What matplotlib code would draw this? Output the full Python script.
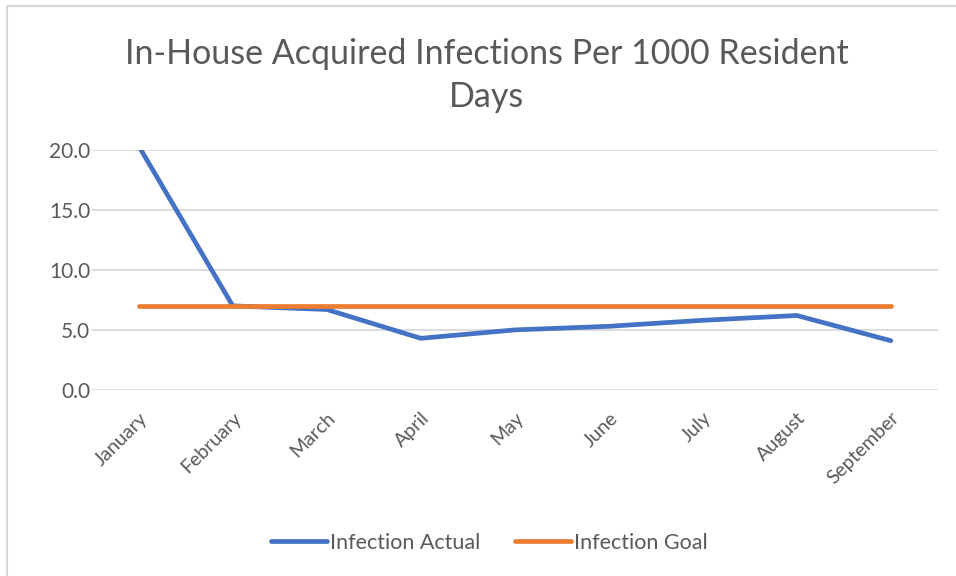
import matplotlib.pyplot as plt
from matplotlib.lines import Line2D

plt.rcParams['font.family'] = ['Lato', 'DejaVu Sans']

months = ['January', 'February', 'March', 'April', 'May', 'June',
          'July', 'August', 'September']
infection_actual = [20.3, 7.0, 6.7, 4.3, 5.0, 5.3, 5.8, 6.2, 4.1]
infection_goal = [7.0, 7.0, 7.0, 7.0, 7.0, 7.0, 7.0, 7.0, 7.0]
y_ticks = [0, 5, 10, 15, 20]

blue = '#4472C4'
orange = '#ED7D31'
text_col = '#595959'
grid_col = '#D9D9D9'

fig = plt.figure(figsize=(9.56, 5.76), dpi=100)
ax = fig.add_axes([0.096, 0.323, 0.885, 0.417])

x = range(len(months))
ax.plot(x, infection_actual, color=blue, lw=3.4, solid_capstyle='round',
        solid_joinstyle='round', zorder=3)
ax.plot(x, infection_goal, color=orange, lw=3.4, solid_capstyle='round', zorder=4)

ax.set_xlim(-0.5, len(months) - 0.5)
ax.set_ylim(0, 20)
ax.set_yticks(y_ticks)
ax.set_yticklabels([f'{v:.1f}' for v in y_ticks], color=text_col, fontsize=15)
ax.set_xticks(list(x))
ax.set_xticklabels(months, rotation=45, ha='right', rotation_mode='anchor',
                   color=text_col, fontsize=14)
ax.tick_params(length=0)
ax.tick_params(axis='y', pad=1)
ax.tick_params(axis='x', pad=14)
ax.grid(axis='y', color=grid_col, lw=1.3)
ax.set_axisbelow(True)
for s in ax.spines.values():
    s.set_visible(False)

fig.text(0.509, 0.869, 'In-House Acquired Infections Per 1000 Resident\nDays',
         ha='center', va='center', fontsize=24.5, color=text_col, linespacing=1.45)

handles = [Line2D([], [], color=blue, lw=3.4, solid_capstyle='round'),
           Line2D([], [], color=orange, lw=3.4, solid_capstyle='round')]
fig.legend(handles, ['Infection Actual', 'Infection Goal'], loc='center',
           bbox_to_anchor=(0.512, 0.058), ncol=2, frameon=False, fontsize=15.5,
           labelcolor=text_col, handlelength=2.6, handletextpad=0.15,
           columnspacing=1.6)

# chart area border (top and left only visible)
fig.add_artist(Line2D([0.0075, 1], [0.9895, 0.9895], color=grid_col, lw=1.5,
                      transform=fig.transFigure))
fig.add_artist(Line2D([0.0075, 0.0075], [0, 0.9895], color=grid_col, lw=1.5,
                      transform=fig.transFigure))

fig.savefig('out.png', dpi=100)
